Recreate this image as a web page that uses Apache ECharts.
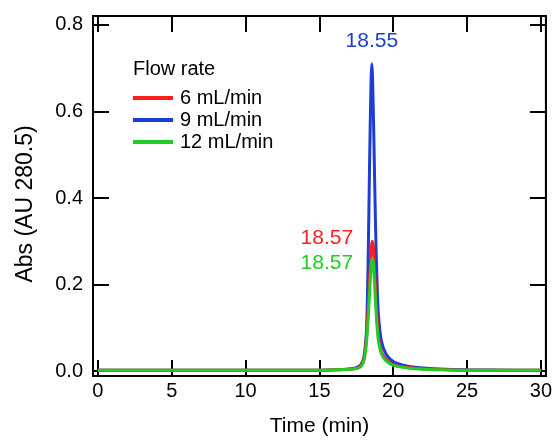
<!DOCTYPE html>
<html>
<head>
<meta charset="utf-8">
<script src="https://cdn.jsdelivr.net/npm/echarts@6/dist/echarts.min.js"></script>
<style>
html,body{margin:0;padding:0;background:#fff;}
#c{width:555px;height:442px;}
</style>
</head>
<body>
<div id="c"></div>
<script>
// Data
var xTicks = [0, 5, 10, 15, 20, 25, 30];
var yTicks = [0, 0.2, 0.4, 0.6, 0.8];

var timeBlue = [0, 5, 10, 15, 16, 17, 17.5, 17.8, 18.0, 18.1, 18.2, 18.3, 18.4, 18.5, 18.55, 18.6, 18.7, 18.8, 18.9, 19.0, 19.2, 19.5, 20, 21, 22, 23, 25, 28, 30];
var absBlue  = [0.002, 0.002, 0.002, 0.002, 0.003, 0.005, 0.008, 0.014, 0.03, 0.055, 0.1, 0.25, 0.48, 0.67, 0.71, 0.68, 0.52, 0.34, 0.21, 0.13, 0.07, 0.04, 0.022, 0.011, 0.007, 0.005, 0.003, 0.002, 0.002];

var timeRed = [0, 5, 10, 15, 16, 17, 17.5, 17.8, 18.0, 18.1, 18.2, 18.3, 18.4, 18.5, 18.57, 18.65, 18.7, 18.8, 18.9, 19.0, 19.2, 19.5, 20, 21, 22, 23, 25, 28, 30];
var absRed  = [0.002, 0.002, 0.002, 0.002, 0.003, 0.004, 0.006, 0.011, 0.025, 0.045, 0.08, 0.14, 0.21, 0.28, 0.30, 0.29, 0.26, 0.19, 0.125, 0.08, 0.045, 0.028, 0.015, 0.008, 0.005, 0.004, 0.002, 0.002, 0.002];

var timeGreen = [0, 5, 10, 15, 16, 17, 17.5, 17.8, 18.0, 18.1, 18.2, 18.3, 18.4, 18.5, 18.57, 18.65, 18.7, 18.8, 18.9, 19.0, 19.2, 19.5, 20, 21, 22, 23, 25, 28, 30];
var absGreen  = [0.002, 0.002, 0.002, 0.002, 0.003, 0.004, 0.006, 0.01, 0.022, 0.04, 0.07, 0.12, 0.18, 0.24, 0.26, 0.25, 0.225, 0.16, 0.105, 0.07, 0.04, 0.024, 0.013, 0.007, 0.004, 0.003, 0.002, 0.002, 0.002];

var seriesNames = ['6 mL/min', '9 mL/min', '12 mL/min'];
var peakLabels = ['18.57', '18.55', '18.57'];

function pairs(xs, ys) { return xs.map(function (x, i) { return [x, ys[i]]; }); }

var FONT = 'Liberation Sans, Arial, sans-serif';
var RED = '#ff1e1e', BLUE = '#1c3dd6', GREEN = '#22cc22';

var chart = echarts.init(document.getElementById('c'));
var axisCommon = {
  axisLine: { show: true, onZero: false, lineStyle: { color: '#000', width: 2 } },
  splitLine: { show: false }
};
chart.setOption({
  animation: false,
  backgroundColor: '#fff',
  textStyle: { fontFamily: FONT },
  grid: { left: 93, top: 16, right: 5, bottom: 62, show: true, borderColor: '#000', borderWidth: 2 },
  title: {
    text: 'Flow rate', left: 128, top: 54,
    textStyle: { fontFamily: FONT, fontSize: 20, fontWeight: 'normal', color: '#000' }
  },
  legend: {
    orient: 'vertical', left: 128, top: 83, itemWidth: 40, itemHeight: 4, itemGap: 2,
    icon: 'rect', data: seriesNames,
    textStyle: { fontFamily: FONT, fontSize: 20, color: '#000', padding: [0, 0, 0, 2] }
  },
  xAxis: [
    Object.assign({
      type: 'value', min: -0.33, max: 30.34, position: 'bottom',
      name: 'Time (min)', nameLocation: 'middle', nameGap: 40,
      nameTextStyle: { fontFamily: FONT, fontSize: 21, color: '#000' },
      axisTick: { show: true, inside: true, length: 16, customValues: xTicks, lineStyle: { color: '#000', width: 2 } },
      axisLabel: { show: true, customValues: xTicks, margin: 5, fontFamily: FONT, fontSize: 20, color: '#000' }
    }, axisCommon),
    Object.assign({
      type: 'value', min: -0.33, max: 30.34, position: 'top',
      axisTick: { show: true, inside: true, length: 16, customValues: xTicks, lineStyle: { color: '#000', width: 2 } },
      axisLabel: { show: false }
    }, axisCommon)
  ],
  yAxis: [
    Object.assign({
      type: 'value', min: -0.0114, max: 0.8206, position: 'left',
      name: 'Abs (AU 280.5)', nameLocation: 'middle', nameGap: 56,
      nameTextStyle: { fontFamily: FONT, fontSize: 23, color: '#000', padding: [0, 16, 0, 0] },
      axisTick: { show: true, inside: true, length: 16, customValues: yTicks, lineStyle: { color: '#000', width: 2 } },
      axisLabel: { show: true, customValues: yTicks, margin: 10, fontFamily: FONT, fontSize: 20, color: '#000',
        formatter: function (v) { return v.toFixed(1); } }
    }, axisCommon),
    Object.assign({
      type: 'value', min: -0.0114, max: 0.8206, position: 'right',
      axisTick: { show: true, inside: true, length: 16, customValues: yTicks, lineStyle: { color: '#000', width: 2 } },
      axisLabel: { show: false }
    }, axisCommon)
  ],
  series: [
    {
      name: seriesNames[1], type: 'line', data: pairs(timeBlue, absBlue), z: 2,
      symbol: 'none', smooth: 0.3, color: BLUE, lineStyle: { width: 3, color: BLUE },
      markPoint: {
        symbol: 'circle', symbolSize: 0, silent: true,
        label: { show: true, position: 'top', distance: 12, color: BLUE, fontFamily: FONT, fontSize: 21, formatter: peakLabels[1] },
        data: [{ coord: [18.55, 0.71] }]
      }
    },
    {
      name: seriesNames[0], type: 'line', data: pairs(timeRed, absRed), z: 3,
      symbol: 'none', smooth: 0.3, color: RED, lineStyle: { width: 3, color: RED },
      markPoint: {
        symbol: 'circle', symbolSize: 0, silent: true,
        label: { show: true, position: 'left', distance: 19, offset: [0, -3], color: RED, fontFamily: FONT, fontSize: 21, formatter: peakLabels[0] },
        data: [{ coord: [18.57, 0.30] }]
      }
    },
    {
      name: seriesNames[2], type: 'line', data: pairs(timeGreen, absGreen), z: 4,
      symbol: 'none', smooth: 0.3, color: GREEN, lineStyle: { width: 3, color: GREEN },
      markPoint: {
        symbol: 'circle', symbolSize: 0, silent: true,
        label: { show: true, position: 'left', distance: 19, offset: [0, 5], color: GREEN, fontFamily: FONT, fontSize: 21, formatter: peakLabels[2] },
        data: [{ coord: [18.57, 0.26] }]
      }
    }
  ]
});
</script>
</body>
</html>
